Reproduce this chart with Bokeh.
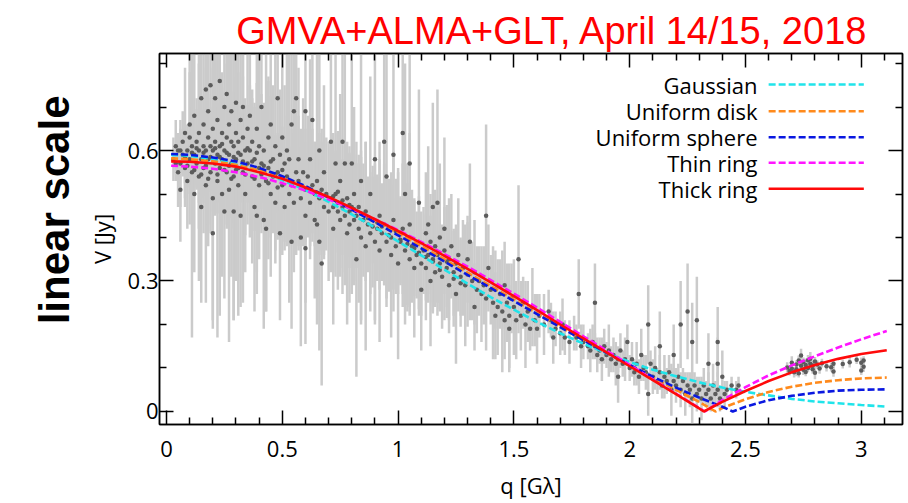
from bokeh.plotting import figure
from bokeh.models import Range1d, LinearAxis, Title, FixedTicker, ColumnDataSource
from bokeh.embed import file_html
from bokeh.resources import INLINE
from bokeh.core.properties import value

# ---------------- texts & ticks ----------------
TITLE = "GMVA+ALMA+GLT, April 14/15, 2018"
SIDE_LABEL = "linear scale"
X_LABEL = "q [Gλ]"
Y_LABEL = "V [Jy]"
X_TICKS = [0, 0.5, 1, 1.5, 2, 2.5, 3]
X_TICK_LABELS = ["0", "0.5", "1", "1.5", "2", "2.5", "3"]
X_MINOR = [0.1, 0.2, 0.3, 0.4, 0.6, 0.7, 0.8, 0.9, 1.1, 1.2, 1.3, 1.4, 1.6, 1.7, 1.8, 1.9,
           2.1, 2.2, 2.3, 2.4, 2.6, 2.7, 2.8, 2.9, 3.1]
Y_TICKS = [0, 0.3, 0.6]
Y_TICK_LABELS = ["0", "0.3", "0.6"]
Y_MINOR = [0.1, 0.2, 0.4, 0.5, 0.7, 0.8]

# ---------------- measured visibilities (q [Glambda], V [Jy], error [Jy]) ----------------
DATA_A = [(0.03,0.58,0.05),(0.04,0.61,0.06),(0.05,0.55,0.08),(0.05,0.60,0.04),(0.06,0.57,0.10),
          (0.06,0.51,0.12),(0.07,0.62,0.07),(0.07,0.59,0.05),(0.08,0.56,0.09),(0.08,0.64,0.15),
          (0.09,0.60,0.06),(0.09,0.53,0.11),(0.10,0.58,0.08),(0.10,0.63,0.20),(0.10,0.66,0.12),
          (0.11,0.55,0.38),(0.11,0.61,0.09),(0.12,0.59,0.07),(0.12,0.50,0.18),(0.12,0.68,0.14),
          (0.13,0.62,0.10),(0.13,0.57,0.06),(0.14,0.64,0.16),(0.14,0.54,0.12),(0.14,0.60,0.30),
          (0.15,0.72,0.20),(0.15,0.58,0.09),(0.15,0.47,0.22),(0.16,0.61,0.11),(0.16,0.66,0.25),
          (0.16,0.56,0.08),(0.17,0.74,0.18),(0.17,0.60,0.13),(0.17,0.52,0.27),(0.18,0.63,0.09),
          (0.18,0.58,0.15),(0.18,0.69,0.31),(0.19,0.55,0.14),(0.19,0.61,0.07),(0.19,0.75,0.22),
          (0.20,0.49,0.30),(0.20,0.60,0.10),(0.20,0.65,0.19),(0.20,0.41,0.20),(0.21,0.57,0.12),
          (0.21,0.72,0.26),(0.21,0.62,0.08),(0.22,0.53,0.36),(0.22,0.59,0.11),(0.22,0.67,0.16),
          (0.23,0.76,0.28),(0.23,0.61,0.10),(0.23,0.56,0.34),(0.24,0.64,0.14),(0.24,0.50,0.19),
          (0.24,0.58,0.09),(0.25,0.70,0.24),(0.25,0.60,0.12),(0.25,0.46,0.20),(0.26,0.63,0.17),
          (0.26,0.55,0.13),(0.26,0.73,0.30),(0.27,0.59,0.10),(0.27,0.66,0.21),(0.27,0.51,0.35),
          (0.28,0.62,0.08),(0.28,0.57,0.26),(0.28,0.69,0.18),(0.29,0.54,0.12),(0.29,0.61,0.40),
          (0.29,0.46,0.25),(0.30,0.64,0.13),(0.30,0.58,0.28),(0.30,0.71,0.20),(0.31,0.56,0.11),
          (0.31,0.62,0.16),(0.31,0.52,0.30),(0.32,0.67,0.19),(0.32,0.59,0.10),(0.32,0.45,0.21),
          (0.33,0.63,0.14),(0.33,0.55,0.30),(0.33,0.70,0.25),(0.34,0.60,0.12),(0.34,0.50,0.18),
          (0.35,0.65,0.22),(0.35,0.57,0.09)]
DATA_A2 = [(0.04,0.57,0.04),(0.06,0.60,0.05),(0.08,0.585,0.06),(0.09,0.565,0.05),(0.11,0.595,0.07),
           (0.12,0.555,0.06),(0.13,0.605,0.09),(0.15,0.545,0.08),(0.16,0.595,0.10),(0.17,0.565,0.06),
           (0.18,0.535,0.12),(0.19,0.585,0.08),(0.21,0.605,0.11),(0.22,0.545,0.09),(0.23,0.585,0.07),
           (0.24,0.615,0.13),(0.25,0.555,0.10),(0.26,0.595,0.08),(0.27,0.565,0.12),(0.28,0.535,0.09),
           (0.29,0.585,0.15),(0.30,0.555,0.07),(0.31,0.595,0.11),(0.33,0.575,0.08),(0.34,0.545,0.14),
           (0.35,0.605,0.10),(0.37,0.575,0.09),(0.38,0.535,0.12),(0.39,0.595,0.16),(0.41,0.545,0.08),
           (0.42,0.565,0.13),(0.44,0.525,0.10),(0.45,0.575,0.15),(0.47,0.545,0.09),(0.48,0.515,0.12),
           (0.50,0.555,0.10)]
DATA_B = [(0.36,0.60,0.15),(0.36,0.68,0.28),(0.37,0.54,0.20),(0.37,0.62,0.10),(0.38,0.47,0.24),
          (0.38,0.58,0.12),(0.39,0.65,0.33),(0.39,0.45,0.18),(0.40,0.56,0.14),(0.40,0.61,0.26),
          (0.40,0.52,0.09),(0.41,0.70,0.22),(0.41,0.57,0.16),(0.42,0.44,0.25),(0.42,0.60,0.11),
          (0.43,0.53,0.30),(0.43,0.42,0.19),(0.44,0.63,0.13),(0.44,0.56,0.21),(0.45,0.50,0.10),
          (0.45,0.66,0.35),(0.46,0.58,0.17),(0.46,0.54,0.12),(0.47,0.61,0.24),(0.47,0.48,0.14),
          (0.48,0.72,0.31),(0.48,0.55,0.09),(0.49,0.41,0.20),(0.49,0.59,0.15),(0.50,0.52,0.12),
          (0.50,0.63,0.27),(0.51,0.57,0.18),(0.51,0.47,0.10),(0.52,0.60,0.22),(0.52,0.54,0.14),
          (0.53,0.58,0.33),(0.53,0.50,0.11),(0.54,0.66,0.19),(0.54,0.52,0.13),(0.54,0.39,0.20),
          (0.55,0.69,0.28),(0.55,0.48,0.16),(0.56,0.55,0.10),(0.56,0.72,0.36),(0.57,0.53,0.15),
          (0.57,0.58,0.21),(0.58,0.49,0.12),(0.58,0.40,0.25),(0.59,0.55,0.17),(0.60,0.69,0.30),
          (0.60,0.51,0.11),(0.60,0.45,0.20),(0.60,0.375,0.22),(0.61,0.54,0.14),(0.62,0.58,0.23),
          (0.62,0.48,0.10),(0.63,0.67,0.26),(0.63,0.52,0.13),(0.64,0.44,0.18),(0.64,0.50,0.12),
          (0.65,0.53,0.33),(0.65,0.43,0.15),(0.66,0.60,0.24),(0.66,0.49,0.09),(0.66,0.39,0.25),
          (0.67,0.34,0.28),(0.67,0.51,0.14),(0.68,0.47,0.11),(0.68,0.55,0.20),(0.69,0.50,0.13),
          (0.70,0.46,0.16)]
DATA_C = [(0.71,0.49,0.12),(0.71,0.62,0.30),(0.72,0.47,0.15),(0.72,0.42,0.22),(0.73,0.50,0.10),
          (0.73,0.57,0.26),(0.74,0.46,0.18),(0.74,0.48,0.09),(0.75,0.53,0.20),(0.75,0.44,0.13),
          (0.76,0.62,0.35),(0.76,0.47,0.11),(0.77,0.45,0.16),(0.77,0.57,0.25),(0.78,0.49,0.10),
          (0.78,0.41,0.21),(0.79,0.46,0.13),(0.79,0.43,0.18),(0.80,0.57,0.30),(0.80,0.47,0.09),
          (0.81,0.44,0.15),(0.81,0.50,0.20),(0.82,0.45,0.12),(0.82,0.35,0.27),(0.83,0.42,0.17),
          (0.83,0.47,0.10),(0.84,0.40,0.20),(0.84,0.53,0.32),(0.85,0.44,0.13),(0.86,0.46,0.16),
          (0.86,0.38,0.24),(0.87,0.43,0.11),(0.88,0.50,0.27),(0.88,0.41,0.14),(0.89,0.44,0.10),
          (0.90,0.39,0.18),(0.90,0.58,0.38),(0.91,0.42,0.12),(0.92,0.45,0.17),(0.92,0.37,0.21),
          (0.93,0.41,0.11),(0.94,0.62,0.33),(0.94,0.43,0.14),(0.95,0.54,0.28),(0.95,0.39,0.15),
          (0.96,0.42,0.10),(0.97,0.36,0.19),(0.97,0.40,0.12),(0.98,0.59,0.36),(0.98,0.44,0.16),
          (0.99,0.38,0.11),(1.00,0.41,0.14),(1.00,0.34,0.22),(1.01,0.39,0.10),(1.02,0.64,0.40),
          (1.02,0.42,0.15),(1.03,0.50,0.30),(1.03,0.37,0.12),(1.04,0.40,0.17),(1.05,0.35,0.11),
          (1.05,0.43,0.21),(1.05,0.57,0.30),(1.06,0.38,0.13),(1.07,0.33,0.16),(1.08,0.36,0.10),
          (1.09,0.48,0.26),(1.10,0.34,0.12),(1.10,0.28,0.14)]
DATA_C2 = [(0.72,0.495,0.10),(0.74,0.505,0.14),(0.76,0.485,0.09),(0.79,0.475,0.12),(0.81,0.465,0.10),
           (0.84,0.455,0.13),(0.87,0.445,0.09),(0.89,0.425,0.14),(0.91,0.435,0.11),(0.93,0.425,0.10),
           (0.96,0.405,0.13),(0.99,0.415,0.12),(1.01,0.395,0.10),(1.04,0.385,0.14),(1.07,0.375,0.11),
           (1.09,0.365,0.13),(1.12,0.355,0.10),(1.15,0.345,0.12),(1.18,0.325,0.09),(1.21,0.345,0.13),
           (1.24,0.305,0.11),(1.27,0.295,0.10),(1.30,0.315,0.12)]
DATA_D = [(1.11,0.37,0.10),(1.12,0.41,0.14),(1.12,0.33,0.12),(1.13,0.43,0.18),(1.13,0.36,0.09),
          (1.14,0.30,0.15),(1.14,0.39,0.11),(1.15,0.47,0.24),(1.15,0.35,0.10),(1.16,0.38,0.13),
          (1.16,0.32,0.08),(1.17,0.48,0.26),(1.17,0.36,0.11),(1.18,0.34,0.09),(1.18,0.40,0.17),
          (1.19,0.31,0.12),(1.20,0.37,0.10),(1.20,0.42,0.21),(1.21,0.33,0.09),(1.22,0.35,0.14),
          (1.22,0.29,0.11),(1.23,0.38,0.12),(1.24,0.32,0.10),(1.25,0.34,0.08),(1.25,0.27,0.16),
          (1.26,0.36,0.13),(1.27,0.31,0.09),(1.28,0.33,0.11),(1.29,0.29,0.14),(1.30,0.35,0.10),
          (1.31,0.39,0.18),(1.32,0.30,0.09),(1.33,0.32,0.12),(1.33,0.24,0.10),(1.34,0.28,0.10),
          (1.35,0.30,0.08),(1.36,0.27,0.11),(1.37,0.29,0.09),(1.38,0.45,0.21),(1.38,0.26,0.12),
          (1.39,0.33,0.10),(1.40,0.28,0.08),(1.41,0.25,0.13),(1.42,0.28,0.09),(1.42,0.22,0.10),
          (1.43,0.24,0.11),(1.44,0.27,0.08),(1.45,0.23,0.14),(1.46,0.29,0.10),(1.46,0.21,0.09),
          (1.47,0.25,0.09),(1.48,0.22,0.12),(1.48,0.19,0.10),(1.49,0.26,0.08),(1.50,0.24,0.11),
          (1.51,0.21,0.09),(1.52,0.35,0.17)]
DATA_E = [(1.53,0.22,0.08),(1.54,0.25,0.06),(1.55,0.20,0.10),(1.56,0.23,0.07),(1.57,0.19,0.05),
          (1.58,0.24,0.09),(1.59,0.21,0.06),(1.60,0.19,0.08),(1.61,0.22,0.05),(1.63,0.20,0.07),
          (1.65,0.23,0.05),(1.66,0.21,0.04),(1.67,0.17,0.06),(1.68,0.19,0.04),(1.70,0.18,0.05),
          (1.71,0.20,0.06),(1.72,0.17,0.04),(1.74,0.16,0.05),(1.76,0.18,0.04),(1.77,0.17,0.03),
          (1.78,0.27,0.08),(1.79,0.15,0.05),(1.80,0.16,0.04),(1.82,0.15,0.03),(1.83,0.14,0.05),
          (1.84,0.16,0.04),(1.85,0.25,0.09),(1.85,0.15,0.03),(1.86,0.13,0.04),(1.87,0.14,0.03),
          (1.88,0.12,0.05),(1.89,0.15,0.04),(1.90,0.13,0.03),(1.91,0.14,0.06),(1.92,0.12,0.03),
          (1.93,0.13,0.04),(1.94,0.11,0.05),(1.95,0.12,0.03),(1.95,0.08,0.06),(1.96,0.14,0.04),
          (1.97,0.11,0.03),(1.98,0.12,0.05),(1.99,0.16,0.04),(2.00,0.10,0.03)]
DATA_F = [(2.01,0.12,0.04),(2.02,0.09,0.03),(2.03,0.11,0.05),(2.04,0.08,0.04),(2.05,0.13,0.06),
          (2.06,0.10,0.03),(2.07,0.09,0.04),(2.08,0.20,0.09),(2.08,0.04,0.05),(2.09,0.11,0.03),
          (2.10,0.08,0.04),(2.11,0.10,0.05),(2.12,0.07,0.03),(2.13,0.15,0.08),(2.13,0.09,0.04),
          (2.14,0.06,0.03),(2.15,0.08,0.05),(2.16,0.07,0.03),(2.17,0.09,0.04),(2.18,0.05,0.06),
          (2.19,0.13,0.07),(2.19,0.07,0.03),(2.20,0.06,0.04),(2.21,0.08,0.03),(2.22,0.20,0.10),
          (2.22,0.05,0.04),(2.23,0.07,0.03),(2.24,0.04,0.05),(2.25,0.23,0.11),(2.25,0.06,0.03),
          (2.26,0.05,0.04),(2.27,0.16,0.09),(2.27,0.03,0.06),(2.28,0.06,0.03),(2.29,0.21,0.10),
          (2.29,0.04,0.04),(2.30,0.05,0.03),(2.31,0.03,0.05),(2.32,0.06,0.04),(2.33,0.04,0.03),
          (2.34,0.11,0.07),(2.34,0.05,0.04),(2.35,0.03,0.03),(2.36,0.06,0.05),(2.37,0.04,0.03),
          (2.38,0.16,0.08),(2.38,0.11,0.06),(2.38,0.05,0.04),(2.39,0.03,0.03),(2.40,0.08,0.06),
          (2.41,0.04,0.03),(2.42,0.05,0.02),(2.44,0.06,0.02),(2.46,0.05,0.02),(2.47,0.06,0.02)]
DATA_G = [(2.68,0.101,0.012),(2.69,0.093,0.010),(2.70,0.112,0.015),(2.70,0.098,0.010),(2.71,0.090,0.012),
          (2.72,0.108,0.010),(2.72,0.097,0.016),(2.73,0.117,0.012),(2.73,0.088,0.010),(2.74,0.129,0.015),
          (2.74,0.105,0.010),(2.75,0.096,0.012),(2.75,0.114,0.010),(2.76,0.107,0.015),(2.76,0.091,0.010),
          (2.77,0.118,0.012),(2.77,0.100,0.010),(2.78,0.110,0.012),(2.78,0.121,0.016),(2.79,0.097,0.010),
          (2.79,0.106,0.012),(2.80,0.115,0.010),(2.80,0.089,0.015),(2.81,0.108,0.010),(2.82,0.099,0.012),
          (2.83,0.111,0.010),(2.85,0.104,0.012),(2.87,0.102,0.010),(2.88,0.092,0.012),(2.88,0.110,0.010),
          (2.92,0.109,0.010),(2.95,0.113,0.012),(2.98,0.119,0.010),(3.00,0.112,0.012),(3.00,0.094,0.010),
          (3.01,0.103,0.012),(3.01,0.117,0.010)]

# ---------------- model fits (q [Glambda], V [Jy]) ----------------
Q_GAUSS = [0.02, 0.1, 0.2, 0.3, 0.4, 0.5, 0.6, 0.7, 0.8, 0.9, 1.0, 1.1, 1.2, 1.3, 1.4, 1.5, 1.6,
           1.7, 1.8, 1.9, 2.0, 2.1, 2.2, 2.3, 2.4, 2.5, 2.6, 2.7, 2.8, 2.9, 3.0, 3.11]
V_GAUSS = [0.590, 0.588, 0.580, 0.569, 0.552, 0.532, 0.509, 0.482, 0.453, 0.423, 0.391, 0.359,
           0.326, 0.294, 0.263, 0.234, 0.206, 0.180, 0.156, 0.134, 0.114, 0.096, 0.081, 0.067,
           0.055, 0.045, 0.037, 0.029, 0.023, 0.019, 0.015, 0.011]
Q_DISK = [0.02, 0.1, 0.2, 0.3, 0.4, 0.5, 0.6, 0.7, 0.8, 0.9, 1.0, 1.1, 1.2, 1.3, 1.4, 1.5, 1.6,
          1.7, 1.8, 1.9, 2.0, 2.1, 2.2, 2.3, 2.37, 2.4, 2.5, 2.6, 2.7, 2.8, 2.9, 3.0, 3.11]
V_DISK = [0.582, 0.580, 0.575, 0.567, 0.554, 0.538, 0.517, 0.493, 0.467, 0.439, 0.410, 0.380,
          0.350, 0.319, 0.288, 0.257, 0.226, 0.195, 0.165, 0.135, 0.106, 0.078, 0.050, 0.022,
          0.0, 0.008, 0.028, 0.045, 0.057, 0.066, 0.072, 0.076, 0.078]
Q_SPHERE = [0.02, 0.1, 0.2, 0.3, 0.4, 0.5, 0.6, 0.7, 0.8, 0.9, 1.0, 1.1, 1.2, 1.3, 1.4, 1.5, 1.6,
            1.7, 1.8, 1.9, 2.0, 2.1, 2.2, 2.3, 2.4, 2.445, 2.5, 2.6, 2.7, 2.8, 2.9, 3.0, 3.11]
V_SPHERE = [0.592, 0.590, 0.584, 0.575, 0.560, 0.541, 0.518, 0.492, 0.464, 0.435, 0.405, 0.375,
            0.345, 0.314, 0.284, 0.254, 0.224, 0.194, 0.164, 0.135, 0.107, 0.080, 0.055, 0.032,
            0.011, 0.0, 0.011, 0.026, 0.036, 0.043, 0.048, 0.050, 0.051]
Q_THIN = [0.02, 0.1, 0.2, 0.3, 0.4, 0.5, 0.6, 0.7, 0.8, 0.9, 1.0, 1.1, 1.2, 1.3, 1.4, 1.5, 1.6,
          1.7, 1.8, 1.9, 2.0, 2.1, 2.2, 2.3, 2.325, 2.4, 2.5, 2.6, 2.7, 2.8, 2.9, 3.0, 3.11]
V_THIN = [0.565, 0.563, 0.558, 0.550, 0.539, 0.525, 0.508, 0.488, 0.466, 0.442, 0.417, 0.390,
          0.362, 0.333, 0.302, 0.271, 0.239, 0.206, 0.173, 0.140, 0.107, 0.074, 0.041, 0.008,
          0.0, 0.026, 0.056, 0.083, 0.106, 0.127, 0.147, 0.166, 0.185]
Q_THICK = [0.02, 0.1, 0.2, 0.3, 0.4, 0.5, 0.6, 0.7, 0.8, 0.9, 1.0, 1.1, 1.2, 1.3, 1.4, 1.5, 1.6,
           1.7, 1.8, 1.9, 2.0, 2.1, 2.2, 2.3, 2.32, 2.4, 2.5, 2.6, 2.7, 2.8, 2.9, 3.0, 3.11]
V_THICK = [0.575, 0.574, 0.570, 0.563, 0.550, 0.535, 0.515, 0.493, 0.468, 0.442, 0.415, 0.387,
           0.358, 0.328, 0.297, 0.265, 0.233, 0.200, 0.168, 0.136, 0.104, 0.072, 0.040, 0.007,
           0.0, 0.022, 0.047, 0.070, 0.090, 0.107, 0.121, 0.132, 0.141]

MODEL_NAMES = ["Gaussian", "Uniform disk", "Uniform sphere", "Thin ring", "Thick ring"]
MODEL_Q = [Q_GAUSS, Q_DISK, Q_SPHERE, Q_THIN, Q_THICK]
MODEL_V = [V_GAUSS, V_DISK, V_SPHERE, V_THIN, V_THICK]
MODEL_COLORS = ["#20e4ea", "#ff8a1c", "#0a18e0", "#ff14ff", "#ff0a0a"]
MODEL_DASH = ["7 3", "7 3", "7 3", "7 3", "solid"]

# ---------------- figure ----------------
FONT = "Open Sans"
p = figure(width=908, height=503, output_backend="svg", toolbar_location=None,
           x_range=Range1d(-0.0302, 3.178), y_range=Range1d(-0.0299, 0.823),
           min_border_left=159, min_border_right=6, min_border_top=53, min_border_bottom=79,
           background_fill_color="white", border_fill_color="white")
p.xgrid.visible = False
p.ygrid.visible = False
p.outline_line_color = "black"
p.outline_line_width = 1.5
p.title.visible = False


def style_axis(ax, ticks, minor, labels):
    ax.ticker = FixedTicker(ticks=ticks, minor_ticks=minor)
    ax.major_tick_in = 14
    ax.major_tick_out = 0
    ax.minor_tick_in = 7
    ax.minor_tick_out = 0
    for attr in ("axis_line", "major_tick_line", "minor_tick_line"):
        setattr(ax, attr + "_color", "black")
        setattr(ax, attr + "_width", 1.5)
    if labels is None:
        ax.major_label_overrides = {t: "" for t in ticks}
        ax.major_label_text_font_size = "0px"
        ax.major_label_standoff = 0
    else:
        ax.major_label_overrides = dict(zip(ticks, labels))
        ax.major_label_text_font = FONT
        ax.major_label_text_font_size = "22px"
        ax.major_label_text_color = "black"


xa = p.xaxis[0]
ya = p.yaxis[0]
style_axis(xa, X_TICKS, X_MINOR, X_TICK_LABELS)
style_axis(ya, Y_TICKS, Y_MINOR, Y_TICK_LABELS)
xa.major_label_standoff = 16
ya.major_label_standoff = 1
xa.axis_label = X_LABEL
ya.axis_label = Y_LABEL
for ax in (xa, ya):
    ax.axis_label_text_font = FONT
    ax.axis_label_text_font_size = "22px"
    ax.axis_label_text_font_style = "normal"
    ax.axis_label_text_color = "black"
xa.axis_label_standoff = 10
ya.axis_label_standoff = 8

top = LinearAxis()
style_axis(top, X_TICKS, X_MINOR, None)
p.add_layout(top, "above")
right = LinearAxis()
style_axis(right, Y_TICKS, Y_MINOR, None)
p.add_layout(right, "right")

p.add_layout(Title(text=TITLE, align="right", offset=34, standoff=0, vertical_align="top",
                   text_font="Liberation Sans", text_font_size="38px", text_font_style="normal",
                   text_color="#ff0000"), "above")
p.add_layout(Title(text=SIDE_LABEL, align="right", offset=42, standoff=8, vertical_align="top",
                   text_font="Liberation Sans", text_font_size="42px", text_font_style="bold",
                   text_color="black"), "left")

# ---------------- data ----------------
rows = DATA_A + DATA_A2 + DATA_B + DATA_C + DATA_C2 + DATA_D + DATA_E + DATA_F + DATA_G
qs = [r[0] for r in rows]
vs = [r[1] for r in rows]
es = [r[2] for r in rows]
src = ColumnDataSource(dict(q=qs, v=vs, lo=[v - e for v, e in zip(vs, es)],
                            hi=[v + e for v, e in zip(vs, es)]))
p.segment(x0="q", y0="lo", x1="q", y1="hi", source=src, line_color="#cbcbcb", line_width=2.5)
p.scatter(x="q", y="v", source=src, size=4.5, fill_color="#5c5c5c", line_color=None)

for q, v, c, d in zip(MODEL_Q, MODEL_V, MODEL_COLORS, MODEL_DASH):
    p.line(q, v, line_color=c, line_width=2.6, line_dash=d)

# ---------------- legend (labels left of line samples) ----------------
LEG_TEXT_X = 2.552
LEG_LINE_X0 = 2.600
LEG_LINE_X1 = 3.011
LEG_ROWS_Y = [0.7517, 0.6903, 0.6306, 0.5717, 0.5120]
p.text(x=[LEG_TEXT_X] * len(MODEL_NAMES), y=LEG_ROWS_Y, text=MODEL_NAMES,
       text_align="right", text_baseline="middle", text_font=value(FONT),
       text_font_size="22px", text_color="black")
for y, c, d in zip(LEG_ROWS_Y, MODEL_COLORS, MODEL_DASH):
    p.line([LEG_LINE_X0, LEG_LINE_X1], [y, y], line_color=c, line_width=2.6, line_dash=d)

open("out.html", "w").write(file_html(p, INLINE))
